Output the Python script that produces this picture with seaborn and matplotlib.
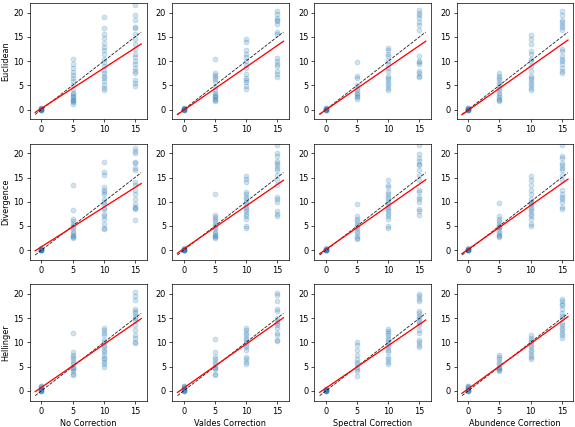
import numpy as np
import pandas as pd
import matplotlib
matplotlib.use("Agg")
import matplotlib.pyplot as plt
import seaborn as sns

# Panel layout
metrics = ["Euclidean", "Divergence", "Hellinger"]
corrections = ["No Correction", "Valdes Correction", "Spectral Correction", "Abundence Correction"]
group_x = [0, 5, 10, 15]

# Observed values per panel: one list per x group (0, 5, 10, 15)
zero_tight = [0.0, 0.0, 0.0, 0.0, 0.1, 0.1, 0.2, 0.3, 0.4]
zero_wide = [0.0, 0.0, 0.0, 0.1, 0.2, 0.3, 0.5, 0.7, 0.9, 1.0]

euc_none = [zero_tight,
            [10.4, 9.5, 8.5, 7.8, 7.2, 6.6, 5.9, 5.1, 4.2, 3.5, 3.2, 2.8, 2.5, 2.2, 2.0, 1.8, 1.5, 1.2],
            [19.2, 16.8, 15.5, 14.8, 13.8, 13.0, 12.2, 11.5, 10.5, 9.8, 9.0, 8.2, 7.5, 7.0, 6.5, 5.8, 5.0, 4.5, 4.0],
            [21.5, 19.5, 18.5, 17.0, 16.8, 15.5, 14.5, 13.5, 12.5, 11.5, 10.8, 10.0, 9.5, 8.5, 8.0, 7.5, 6.0, 5.5, 4.8]]
euc_valdes = [zero_tight,
              [10.4, 7.6, 7.2, 6.8, 6.3, 5.6, 4.7, 4.0, 3.5, 3.1, 2.8, 2.5, 2.2, 2.0, 1.8],
              [14.5, 14.0, 12.2, 11.5, 10.9, 10.0, 9.1, 8.5, 7.4, 6.5, 6.1, 5.6, 4.9, 4.2],
              [20.3, 19.7, 19.0, 18.5, 18.2, 17.7, 16.0, 15.5, 10.7, 10.0, 9.4, 8.9, 8.0, 7.3, 6.8]]
euc_spectral = [zero_tight,
                [9.8, 7.0, 6.5, 5.0, 4.5, 4.0, 3.5, 3.2, 2.8, 2.5, 2.2],
                [12.8, 12.2, 11.5, 11.0, 10.0, 9.5, 8.5, 8.0, 7.0, 6.5, 6.0, 5.5, 5.0, 4.5, 4.0],
                [20.5, 20.0, 19.5, 19.0, 18.0, 17.5, 16.5, 11.0, 10.0, 9.8, 9.5, 8.0, 7.5, 7.0, 6.8]]
euc_abund = [zero_tight,
             [7.5, 7.0, 6.5, 6.0, 5.5, 5.0, 4.5, 4.0, 3.5, 3.0, 2.5, 2.2, 2.0, 1.8],
             [15.3, 14.5, 13.5, 12.0, 11.5, 10.5, 10.0, 9.0, 8.0, 7.0, 6.5, 6.0, 5.5, 5.0, 4.5, 4.0],
             [20.3, 19.5, 18.5, 18.0, 17.5, 17.0, 16.5, 12.5, 12.0, 11.0, 10.5, 10.0, 9.5, 8.5, 8.0, 7.5]]

div_none = [zero_tight,
            [13.4, 8.2, 6.5, 6.0, 5.5, 5.0, 4.5, 4.0, 3.5, 3.2, 3.0, 2.8, 2.5],
            [18.3, 16.2, 15.5, 13.0, 12.5, 12.0, 11.5, 10.5, 10.0, 9.5, 8.8, 8.5, 7.5, 7.0, 6.5, 5.5, 4.5, 4.3],
            [21.0, 20.5, 20.0, 18.2, 18.0, 17.0, 16.5, 14.0, 13.5, 12.5, 11.5, 10.5, 9.5, 9.0, 8.8, 8.5, 6.2]]
div_valdes = [zero_tight,
              [11.5, 7.2, 6.8, 6.5, 6.0, 5.5, 5.0, 4.5, 4.0, 3.5, 3.2, 3.0, 2.8, 2.5],
              [15.3, 14.8, 14.0, 12.0, 11.5, 11.0, 10.5, 10.0, 9.5, 9.0, 8.5, 8.0, 7.5, 7.0, 6.5, 5.0, 4.5],
              [21.8, 20.0, 19.5, 18.5, 18.0, 17.5, 17.0, 16.5, 15.5, 14.5, 13.5, 11.0, 10.5, 10.0, 8.0, 7.5, 7.0]]
div_spectral = [zero_tight,
                [9.5, 7.0, 6.5, 6.0, 5.5, 5.0, 4.5, 4.0, 3.5, 3.0, 2.5, 2.3],
                [14.5, 13.5, 13.0, 12.0, 11.5, 11.0, 10.5, 10.0, 9.5, 9.0, 8.5, 8.0, 7.5, 7.0, 6.5, 5.0, 4.5],
                [21.8, 19.8, 19.0, 18.5, 17.8, 17.5, 16.5, 15.5, 14.5, 12.5, 12.0, 11.0, 10.5, 10.0, 8.5, 8.0, 7.3]]
div_abund = [zero_tight,
             [9.7, 7.0, 6.5, 6.0, 5.5, 5.0, 4.8, 4.5, 4.0, 3.5, 3.2, 3.0, 2.7],
             [15.3, 14.5, 13.5, 12.5, 11.5, 10.5, 10.0, 9.8, 9.5, 9.0, 8.5, 8.0, 7.5, 7.0, 6.5, 5.5, 5.0],
             [21.8, 19.5, 19.0, 18.0, 17.5, 17.0, 16.5, 15.5, 14.5, 12.5, 11.5, 11.0, 10.5, 10.0, 9.0, 8.5]]

hel_none = [zero_wide,
            [12.0, 8.0, 7.5, 7.0, 6.5, 6.0, 5.5, 5.0, 4.8, 4.5, 4.0, 3.5, 3.2],
            [13.0, 12.5, 12.0, 11.5, 10.5, 10.0, 9.5, 9.0, 8.5, 8.0, 7.5, 6.8, 6.5, 6.0, 5.5, 5.0],
            [20.5, 19.5, 18.8, 17.0, 16.5, 16.0, 15.5, 15.0, 14.5, 13.5, 12.5, 11.5, 11.0, 10.0, 9.8]]
hel_valdes = [zero_wide,
              [10.8, 8.0, 7.0, 6.5, 6.0, 5.5, 5.0, 4.8, 4.5, 3.5, 3.3],
              [13.0, 12.5, 12.0, 11.5, 11.0, 10.5, 10.0, 9.5, 9.0, 8.5, 7.0, 6.5, 6.0, 5.5],
              [20.3, 19.8, 18.5, 17.0, 16.5, 15.0, 14.5, 14.0, 13.5, 13.0, 12.0, 11.5, 10.5, 10.3]]
hel_spectral = [zero_tight,
                [10.0, 9.5, 8.5, 7.5, 6.5, 6.0, 5.5, 5.0, 4.5, 4.0, 3.0],
                [12.8, 12.3, 12.0, 11.5, 11.0, 10.5, 10.0, 9.5, 9.0, 8.5, 8.0, 7.0, 6.5, 6.0, 5.5],
                [20.0, 19.5, 19.0, 18.5, 16.5, 16.0, 15.5, 15.0, 14.5, 14.0, 13.5, 12.5, 12.0, 10.5, 10.0, 9.5, 9.0]]
hel_abund = [zero_wide,
             [7.5, 7.0, 6.5, 6.0, 5.5, 5.0, 4.8, 4.5, 4.3, 4.0],
             [11.5, 11.0, 10.5, 10.0, 9.5, 9.0, 8.5, 8.0, 7.5, 7.0, 6.5],
             [19.0, 18.5, 18.0, 17.8, 17.0, 16.0, 15.5, 15.0, 14.0, 13.5, 13.0, 12.5, 12.0, 11.5, 11.0]]

panels = [[euc_none, euc_valdes, euc_spectral, euc_abund],
          [div_none, div_valdes, div_spectral, div_abund],
          [hel_none, hel_valdes, hel_spectral, hel_abund]]

# Fitted regression lines (slope, intercept)
fit_slope = [[0.83, 0.89, 0.885, 0.907],
             [0.816, 0.885, 0.898, 0.905],
             [0.887, 0.907, 0.878, 0.932]]
fit_icept = [[0.25, -0.14, -0.05, -0.16],
             [0.71, 0.28, 0.18, 0.19],
             [0.72, 0.58, 0.57, 0.42]]

line_x = np.array([-1, 16])

plt.rcParams['font.size'] = 9.3

fig, axes = plt.subplots(3, 4, figsize=(9.2, 6.832), dpi=62.5)
plt.subplots_adjust(left=0.052, right=0.997, top=0.993, bottom=0.062, wspace=0.22, hspace=0.21)

for i, metric in enumerate(metrics):
    for j, corr in enumerate(corrections):
        ax = axes[i, j]
        groups = panels[i][j]
        df = pd.DataFrame({
            "truth": np.concatenate([[gx] * len(g) for gx, g in zip(group_x, groups)]),
            "estimate": np.concatenate(groups),
        })
        sns.scatterplot(data=df, x="truth", y="estimate", ax=ax, color="tab:blue",
                        edgecolor="tab:blue", linewidth=1, alpha=0.2, s=32)
        ax.plot(line_x, line_x, "k--", lw=1, alpha=0.85)
        ax.plot(line_x, fit_slope[i][j] * line_x + fit_icept[i][j], color="red", lw=1.5)
        ax.set_xlim(-1.85, 16.85)
        ax.set_ylim(-2, 22)
        ax.set_xticks([0, 5, 10, 15])
        ax.set_yticks([0, 5, 10, 15, 20])
        ax.set_xlabel(corr if i == 2 else "")
        ax.set_ylabel(metric if j == 0 else "")

plt.savefig("out.png", dpi=62.5)
